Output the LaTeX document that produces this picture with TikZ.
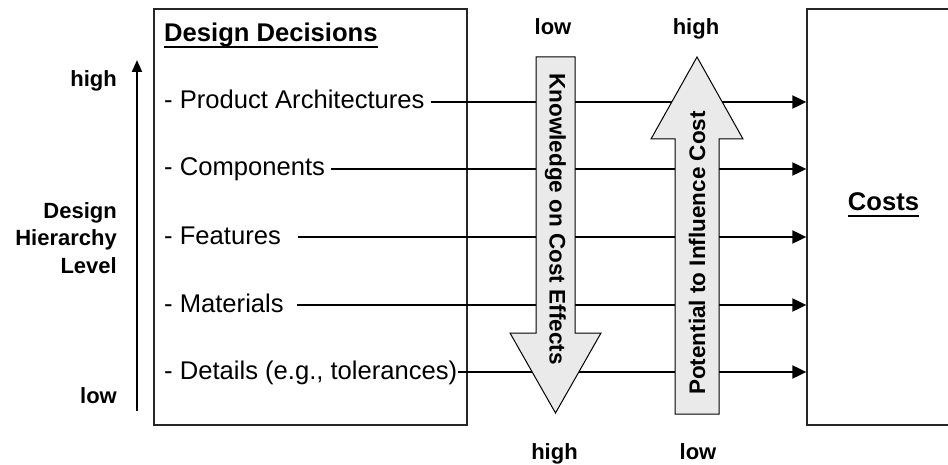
\documentclass[tikz,border=0pt]{standalone}
\usepackage{fontspec}
\setmainfont{Liberation Sans}
\usetikzlibrary{arrows.meta}
\definecolor{arrowfill}{HTML}{EAEAEA}
% underline drawn as a rule just below the baseline
\newcommand\rulebelow[1]{\setbox0\hbox{#1}\rlap{\rule[-6pt]{\wd0}{2pt}}\box0}
\begin{document}
\begin{tikzpicture}[x=1pt,y=-1pt,
  panel/.style={draw=black!85, line width=1.3pt, inner sep=0},
  item/.style={anchor=west, inner xsep=0, inner ysep=0, text height=19pt, text depth=5pt,
    font=\fontsize{25.6}{30}\selectfont},
  label/.style={font=\bfseries\fontsize{22}{27.5}\selectfont, inner sep=0},
  flowtext/.style={font=\bfseries\fontsize{22.5}{27}\selectfont, inner sep=0},
  title/.style={font=\bfseries\fontsize{25.6}{30}\selectfont, inner sep=0},
  link/.style={line width=2pt, -{Triangle[length=14pt,width=13pt]}},
  axis/.style={line width=2pt, -{Triangle[length=12pt,width=10pt]}},
  bigarrow/.style={draw=black, line width=1pt, fill=arrowfill, line join=miter},
]
\useasboundingbox (0,0) rectangle (948,465);

% the two panels
\node[panel, minimum width=313pt, minimum height=416pt] (decisions) at (310.5,217) {};
\node[panel, minimum width=190pt, minimum height=416pt] (costbox) at (902,217) {};

\node[title, anchor=base west] (ddtitle) at (164,42) {\rulebelow{Design Decisions}};
\node[title, anchor=base] (costs) at (883.5,211) {\rulebelow{Costs}};

% design decision items
\node[item] (pa)   at (164,102) {- Product Architectures};
\node[item] (comp) at (164,169) {- Components};
\node[item] (feat) at (164,237) {- Features};
\node[item] (mat)  at (164,305) {- Materials};
\node[item] (det)  at (164,372) {- Details (e.g., tolerances)};

% each decision level feeds the costs
\draw[link] ([xshift=6pt]pa.east)    -- (pa.east -| costbox.west);
\draw[link] ([xshift=6pt]comp.east)  -- (comp.east -| costbox.west);
\draw[link] ([xshift=17pt]feat.east) -- (feat.east -| costbox.west);
\draw[link] ([xshift=13pt]mat.east)  -- (mat.east -| costbox.west);
\draw[link] ([xshift=1pt]det.east)   -- (det.east -| costbox.west);

% knowledge grows downwards, influence grows upwards
\draw[bigarrow] (536,57) -- (575,57) -- (575,333) -- (601,333) -- (555.5,413)
  -- (510,333) -- (536,333) -- cycle;
\draw[bigarrow] (675,414) -- (719,414) -- (719,139) -- (743,139) -- (697,57)
  -- (651,139) -- (675,139) -- cycle;
\node[flowtext, rotate=-90] (knowledge) at (555.5,219) {Knowledge on Cost Effects};
\node[flowtext, rotate=90] (potential) at (697,253) {Potential to Influence Cost};

\node[label, anchor=base] (klow)  at (553,35)  {low};
\node[label, anchor=base] (phigh) at (696,35)  {high};
\node[label, anchor=base] (khigh) at (554.5,459) {high};
\node[label, anchor=base] (plow)  at (698,459) {low};

% design hierarchy axis
\coordinate (axlow) at (137,411);
\coordinate (axhigh) at (137,60);
\draw[axis] (axlow) -- (axhigh);
\node[label, anchor=base east] (hhigh) at (117,87) {high};
\node[label, anchor=base east] (hlow) at (117,403) {low};
\node[label, anchor=north east, align=right] (hier) at (117,202) {Design\\Hierarchy\\Level};
\end{tikzpicture}
\end{document}
